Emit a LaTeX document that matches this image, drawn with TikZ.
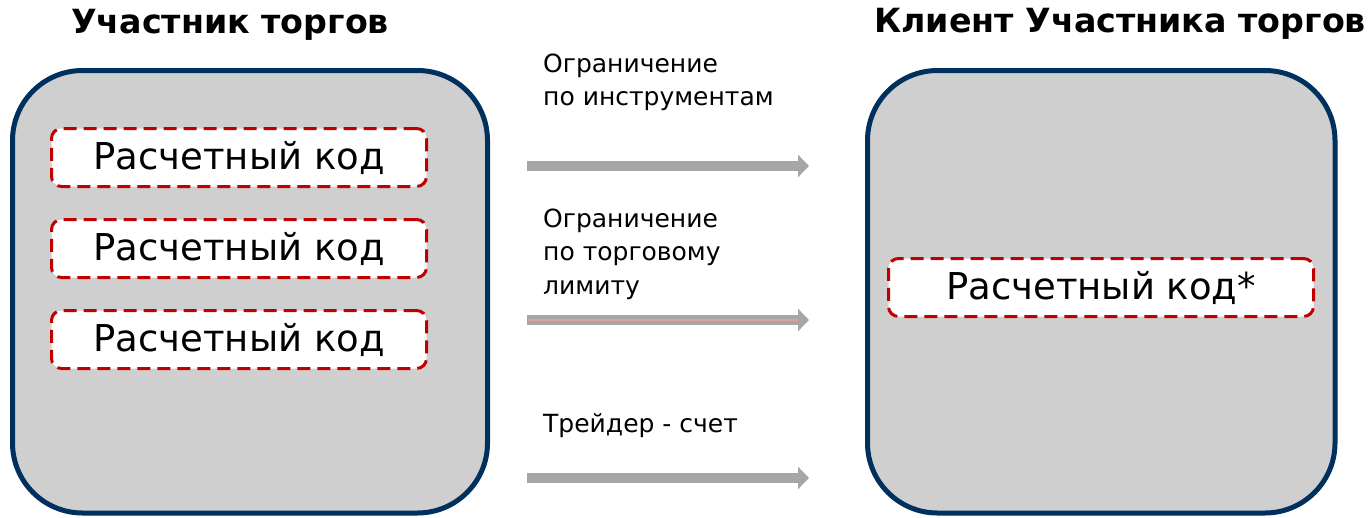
\documentclass[tikz,border=0pt]{standalone}
\usepackage{fontspec}
\setmainfont{DejaVu Sans}
\usetikzlibrary{arrows.meta}
\definecolor{navy}{RGB}{0,48,94}
\definecolor{boxgray}{RGB}{207,207,207}
\definecolor{dred}{RGB}{192,0,0}
\definecolor{arrgray}{RGB}{166,166,166}
\definecolor{pinkline}{RGB}{230,160,160}
\begin{document}
\begin{tikzpicture}[x=1pt,y=-1pt,
  bigbox/.style={draw=navy,line width=5pt,fill=boxgray,rounded corners=70pt,inner sep=0pt},
  codebox/.style={draw=dred,line width=3pt,fill=white,rounded corners=10pt,dash pattern=on 13pt off 7pt,inner sep=0pt,minimum width=375pt,minimum height=58pt,font=\fontsize{37}{44}\selectfont},
  title/.style={font=\bfseries\fontsize{33.3}{38}\selectfont,inner sep=0pt,anchor=base},
  lab/.style={font=\fontsize{25}{33.5}\selectfont,align=left,anchor=north west,inner sep=0pt},
  flow/.style={draw=arrgray,line width=10pt,-{Triangle[length=11pt,width=22pt]}}
]
\useasboundingbox (0,0) rectangle (1371,517);
\node[bigbox,minimum width=475pt,minimum height=442.5pt] (L) at (250,291.75) {};
\node[bigbox,minimum width=467.5pt,minimum height=442.5pt] (R) at (1101.25,291.75) {};
\node[title] (tl) at (230,33) {Участник торгов};
\node[title] (tr) at (1120,32) {Клиент Участника торгов};
\node[codebox] (c1) at (239,157.5) {Расчетный код};
\node[codebox] (c2) at (239,248.5) {Расчетный код};
\node[codebox] (c3) at (239,339.5) {Расчетный код};
\node[codebox,minimum width=425pt] (c4) at (1101,287.5) {Расчетный код*};
\node[lab] (l1) at (543,53.5) {Ограничение\\по инструментам};
\node[lab] (l2) at (543,208.5) {Ограничение\\по торговому\\лимиту};
\node[lab] (l3) at (543,413) {Трейдер - счет};
\coordinate (a1s) at (527,166); \coordinate (a1e) at (809,166);
\coordinate (a2s) at (527,320); \coordinate (a2e) at (809,320);
\coordinate (a3s) at (527,478); \coordinate (a3e) at (809,478);
\draw[flow] (a1s) -- (a1e);
\draw[flow] (a2s) -- (a2e);
\draw[pinkline,line width=1.2pt] (a2s) ++(1,0) -- ++(270,0);
\draw[flow] (a3s) -- (a3e);
\end{tikzpicture}
\end{document}
